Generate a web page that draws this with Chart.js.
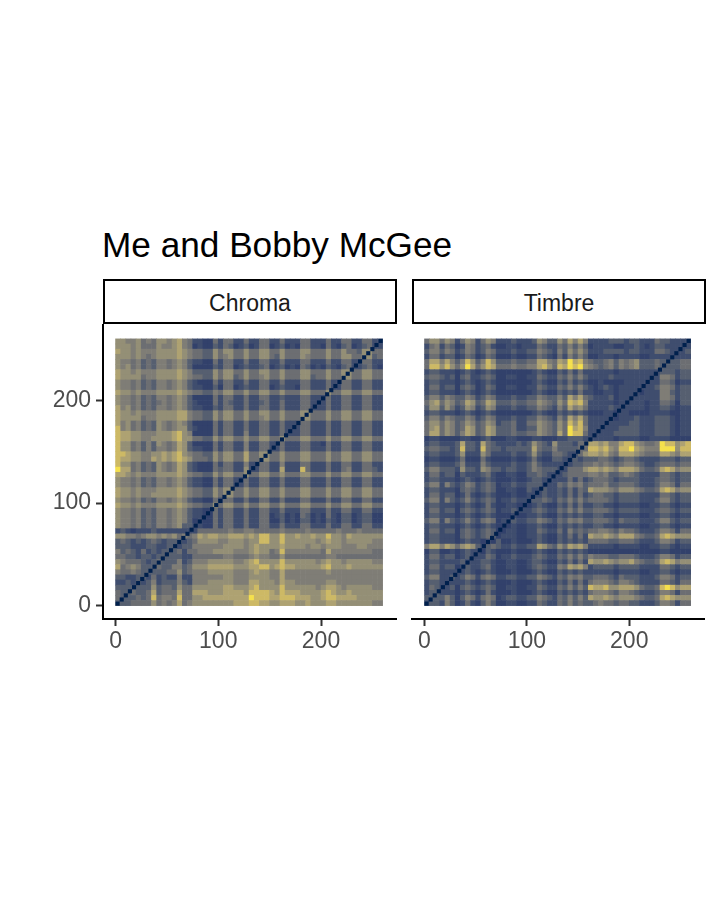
<!DOCTYPE html>
<html>
<head>
<meta charset="utf-8">
<title>Me and Bobby McGee</title>
<script src="https://cdn.jsdelivr.net/npm/chart.js@4"></script>
<style>
    html, body { margin: 0; background: #fff; font-family: "Liberation Sans", sans-serif; }
    canvas { position: absolute; }
    #titulo { position: absolute; left: 102px; top: 225px; font-size: 35.2px; line-height: 40px; color: #000; white-space: nowrap; }
    .faixa { position: absolute; top: 279px; width: 294px; height: 45px; line-height: 44px; box-sizing: border-box;
             border: 2px solid #000; text-align: center; font-size: 23px; color: #1a1a1a; }
</style>
</head>
<body>
<div id="titulo">Me and Bobby McGee</div>
<div class="faixa" style="left:103px">Chroma</div>
<div class="faixa" style="left:412px">Timbre</div>
<canvas id="chromaChart" style="left:0;top:320px;width:400px;height:350px"></canvas>
<canvas id="timbreChart" style="left:408px;top:320px;width:300px;height:350px"></canvas>
<script>
const tickValues = [0, 100, 200];
const cellSize = 5;
const fullTime = 260;
const cividisColors = ["#2B3A68", "#32416B", "#3F4D6E", "#565F70", "#6C6E72", "#7F7D76", "#948F76", "#AEA272", "#CDB965", "#F5E04C"];
const diagonalColor = "#00204D";

// the dark line where each moment meets itself, seconds
const diagonalTimes = [2, 6, 10, 14, 18, 22, 26, 30, 34, 38, 42, 46, 50, 54, 58, 62, 66, 70, 74, 78, 82, 86, 90, 94, 98,
    102, 106, 110, 114, 118, 122, 126, 130, 134, 138, 142, 146, 150, 154, 158, 162, 166, 170, 174, 178, 182, 186, 190,
    194, 198, 202, 206, 210, 214, 218, 222, 226, 230, 234, 238, 242, 246, 250, 254, 258];

// one digit per cell, colour step 0-9, top row first
const chromaRows = [
    "66556 45466 56754 22114 24422 42244 22422 24422 24224 42244 22",
    "66656 44465 56754 12113 24312 31244 12312 14422 14213 41234 22",
    "76656 55566 66765 44336 46644 64466 44644 46644 46446 44366 44",
    "66656 54566 66765 44336 45644 64466 43644 46544 46446 64466 34",
    "65545 34355 45653 22114 24422 42244 22422 24422 24224 42244 22",
    "65645 34355 45653 11113 24412 32234 12312 14312 13213 42234 21",
    "76656 55566 66765 33336 46644 64466 44644 46644 46446 64466 44",
    "76666 45566 66765 44336 46634 64456 44644 46634 46446 64466 44",
    "65545 34355 45653 21114 24422 42244 22422 24422 24224 42244 22",
    "65545 34355 45653 22113 14412 32244 12322 14422 24224 42244 22",
    "76656 55566 66765 44335 46644 64466 44644 46644 46446 64466 44",
    "65545 34355 45653 11114 24422 42244 22322 24422 24224 42244 22",
    "65545 34345 45653 21114 24322 42234 22422 24422 24224 42244 22",
    "75645 34355 45653 22113 24422 42244 22422 24422 24224 42244 22",
    "76656 55566 66775 44336 46644 64466 44644 46644 46446 64466 44",
    "76666 45566 66775 44336 46644 64456 44644 46644 46446 64466 44",
    "75645 34365 45653 11114 24422 42244 22422 24422 24224 42244 22",
    "85645 34365 45663 21114 24422 42244 22422 24422 24224 42244 22",
    "87766 55566 67865 11114 24422 52244 22422 24422 24224 42244 22",
    "87766 55666 67866 44336 46644 64466 44644 46644 46446 64466 44",
    "86645 35365 45763 11114 24422 52244 22422 24422 14224 42244 22",
    "86645 35355 45763 22114 24422 52244 22422 24422 24224 42244 22",
    "88766 55667 67865 44336 46644 74466 44644 46644 46446 64466 44",
    "87766 55767 67876 44436 46644 74466 44644 46644 46446 64466 44",
    "86645 34365 45763 21114 24422 52244 22522 24422 24224 42244 22",
    "97745 34365 45763 21114 34422 62244 22722 28422 24224 52244 32",
    "77656 55566 66765 44336 46644 64466 44644 46644 46446 64466 44",
    "65545 34355 45653 22114 24422 42244 22422 24422 24224 42244 22",
    "65545 34355 45653 22114 24422 42244 22422 24422 24224 42244 22",
    "76656 55566 66765 44336 46644 64466 44644 46644 46446 64466 44",
    "76656 55666 66765 44336 46644 64466 44644 46644 46446 64466 44",
    "65545 34355 45653 22114 24422 42244 22422 24422 24224 42244 22",
    "76656 55566 66765 44336 46644 64466 44644 46644 46446 64466 44",
    "65545 34355 45653 22114 24422 42244 22422 24422 24224 42244 22",
    "65545 34355 45653 22114 24422 42244 12312 14312 14213 31233 11",
    "65545 34355 45653 12114 24422 42244 11312 13312 13213 31233 11",
    "65545 34355 45633 22114 24422 42244 22422 24422 24224 42244 22",
    "23212 22322 22222 24444 44544 55444 44544 44544 44454 44544 44",
    "66554 56656 56454 57677 66777 67688 66866 76676 68665 76666 66",
    "34323 23432 33323 46666 55666 56688 66866 66665 67665 66666 55",
    "33322 23322 33233 55555 56666 56766 66766 66566 56665 55665 55",
    "53432 42323 33424 45556 66655 56766 45855 55555 47555 55555 44",
    "44332 33233 33322 44444 45544 45655 44644 44444 45544 44444 44",
    "65444 32343 33523 55566 66655 67866 66866 66665 67665 66666 55",
    "74565 33343 35534 66677 77766 67788 67877 66666 78666 76666 66",
    "54454 33333 44634 55566 66655 56766 55755 55555 56555 55555 55",
    "33223 32423 22522 55555 56655 56666 55755 55555 55555 55555 55",
    "22323 23523 33532 55566 66655 57766 65766 55555 56655 55555 55",
    "33333 33634 43644 66666 67766 67866 66866 66665 67765 66666 55",
    "43343 34734 44744 77766 67777 68888 76877 76666 78766 76666 66",
    "43334 34845 54844 66777 77777 79888 77888 77766 78877 77666 66",
    "33344 44645 45745 66666 66677 78877 66777 66766 67766 66666 55"
];

const timbreRows = [
    "46646 52465 24652 22322 23653 36475 75222 23332 33222 43322 22",
    "24524 31254 23421 12212 22432 24353 53122 22112 23212 33222 22",
    "35535 42354 23542 22322 33543 25364 64222 33332 33222 44322 23",
    "24423 31243 12431 11211 22432 14253 53112 22122 22112 22222 22",
    "47757 53586 35863 33433 44775 47697 85433 45354 56333 43333 44",
    "48868 64697 46874 44544 55786 48798 96543 45354 56333 43333 44",
    "23322 21232 12321 11111 12321 13242 42222 22122 22222 23332 33",
    "34432 31342 23431 12211 22432 24353 53222 23222 22222 25542 33",
    "23322 21232 12321 11111 12321 13242 32112 11112 22222 24431 22",
    "24423 31343 12431 12211 22432 24353 53212 32122 22222 35542 33",
    "23322 21232 12321 11111 12321 13232 42211 22122 22122 25532 33",
    "35535 43354 23542 22322 33543 35375 74322 23122 22222 25542 33",
    "46746 53476 34763 33433 44654 36487 85222 22122 22212 24431 33",
    "36636 42365 23652 22322 33543 25375 64222 23222 22212 23321 22",
    "23322 21232 12321 11111 12321 13232 32111 22122 11112 22211 22",
    "35535 43354 23542 22322 33543 25375 74222 22122 23222 33321 22",
    "46646 53465 34652 33422 44654 36486 84222 22222 33222 33321 22",
    "46746 53476 34763 33422 33654 36497 85222 22233 33222 33321 22",
    "47746 53576 34763 33433 44654 37498 84222 22333 33222 33321 22",
    "12211 11221 12311 12211 12211 12233 32222 22122 22112 22211 11",
    "23322 23733 27432 22232 36432 63332 44776 75578 86544 59886 78",
    "34433 23833 28433 23333 37433 53333 44887 86588 97655 59996 88",
    "23322 23622 26422 22322 36322 44322 46776 75477 76544 47765 77",
    "12211 12411 14211 11211 24211 33223 23334 43234 43222 23332 33",
    "23322 23522 25322 22322 35322 22223 34454 54345 54322 34443 44",
    "35533 32633 26533 23322 35433 32244 46776 76577 76433 47875 66",
    "24423 31322 23421 12211 33432 22344 44554 53345 43222 24432 33",
    "23322 21232 12321 11211 23322 22242 42344 43233 33222 34432 33",
    "35525 32354 23431 22322 33322 24354 53444 53344 43222 35542 44",
    "23322 21343 23431 12211 32232 23242 43766 65466 65433 47875 66",
    "24423 31242 12321 11211 22232 23242 42344 33233 33222 24432 33",
    "35525 32353 23431 22322 23343 24353 53444 43233 33222 35532 33",
    "23322 21232 12421 12211 12321 13242 42233 22122 22112 23321 22",
    "24423 31343 23431 22322 23432 24353 53344 43233 33222 34432 33",
    "23322 21232 12321 11211 22321 13232 32233 22122 22112 23321 22",
    "35525 32353 24541 22322 33543 24354 53344 43243 33222 35532 33",
    "23322 21232 12321 11211 22321 13232 32233 22122 22112 23321 22",
    "24423 31343 23431 12211 22432 24253 43445 54354 43222 35542 44",
    "23322 21343 23431 22211 22321 13242 42766 76577 75433 47876 66",
    "23322 21232 21213 11211 12321 13232 32444 43344 43222 35542 33",
    "57757 64676 32343 22322 33764 36476 75222 22122 22112 23321 22",
    "13311 21232 21321 11211 12321 13232 32111 11111 11111 12211 11",
    "24423 31232 22431 22322 23432 24353 53544 43344 43222 35542 33",
    "23322 22322 23321 12211 23321 13242 42766 76566 75433 47875 66",
    "24423 31232 23421 12211 23432 25476 75233 33233 33222 24432 33",
    "23322 22232 12321 11211 12321 13232 32222 22122 22112 23321 22",
    "35522 32354 24542 23322 33543 24354 53344 43243 33222 35542 33",
    "23322 22232 12321 11211 12321 13242 42455 54355 43222 24432 44",
    "24322 31343 23431 12211 22432 24353 53877 86677 76433 48986 77",
    "23322 21232 12421 11211 12321 13232 32455 54355 43222 35542 44",
    "33335 31354 24541 23322 33543 24353 53766 76566 65433 47876 66",
    "23325 31242 13531 12211 22432 24353 43345 44344 33222 35542 44"
];

function montarCelulas(rows) {
    let celulas = [];
    rows.forEach((row, r) => {
        row.replace(/ /g, "").split("").forEach((digit, c) => {
            celulas.push({
                x: c * cellSize + cellSize / 2,
                y: fullTime - (r * cellSize + cellSize / 2),
                v: parseInt(digit)
            });
        });
    });
    return celulas;
}

function raioCelula(ctx) {
    let x = ctx.chart.scales.x;
    let lado = Math.abs(x.getPixelForValue(cellSize) - x.getPixelForValue(0)) + 0.6;
    return lado / Math.SQRT2;
}

function criarPainel(id, rows, comEixoY) {
    return new Chart(document.getElementById(id).getContext("2d"), {
        type: "scatter",
        data: {
            datasets: [{
                data: montarCelulas(rows),
                pointStyle: "rect",
                pointRadius: raioCelula,
                pointBorderWidth: 0,
                pointBackgroundColor: ctx => cividisColors[ctx.raw.v],
                order: 2
            }, {
                data: diagonalTimes.map(t => ({ x: t, y: t })),
                pointStyle: "rect",
                pointRadius: 2.9,
                pointBorderWidth: 0,
                pointBackgroundColor: diagonalColor,
                order: 1
            }]
        },
        options: {
            responsive: false,
            animation: false,
            events: [],
            layout: { padding: { top: 5, right: comEixoY ? 4 : 3, left: comEixoY ? 0 : 4 } },
            plugins: { legend: { display: false }, tooltip: { enabled: false } },
            scales: {
                x: {
                    type: "linear",
                    min: -12.2,
                    max: 273,
                    afterFit: axis => { axis.height = 51; axis.paddingLeft = 0; axis.paddingRight = 0; },
                    afterBuildTicks: axis => { axis.ticks = tickValues.map(v => ({ value: v })); },
                    border: { display: true, color: "#000", width: 2 },
                    grid: { drawOnChartArea: false, drawTicks: true, tickLength: 7, tickWidth: 2, tickColor: "#333" },
                    ticks: { color: "#4d4d4d", maxRotation: 0, padding: 2, font: { family: "Liberation Sans", size: 23 } }
                },
                y: {
                    type: "linear",
                    display: comEixoY,
                    min: -13,
                    max: 273.5,
                    afterFit: axis => { axis.width = comEixoY ? 103 : 0; axis.paddingTop = 0; axis.paddingBottom = 0; },
                    afterBuildTicks: axis => { axis.ticks = tickValues.map(v => ({ value: v })); },
                    border: { display: true, color: "#000", width: 2 },
                    grid: { drawOnChartArea: false, drawTicks: true, tickLength: 7, tickWidth: 2, tickColor: "#333" },
                    ticks: { color: "#4d4d4d", padding: 5, font: { family: "Liberation Sans", size: 23 } }
                }
            }
        }
    });
}

document.getElementById("chromaChart").width = 400;
document.getElementById("chromaChart").height = 350;
document.getElementById("timbreChart").width = 300;
document.getElementById("timbreChart").height = 350;

criarPainel("chromaChart", chromaRows, true);
criarPainel("timbreChart", timbreRows, false);
</script>
</body>
</html>
